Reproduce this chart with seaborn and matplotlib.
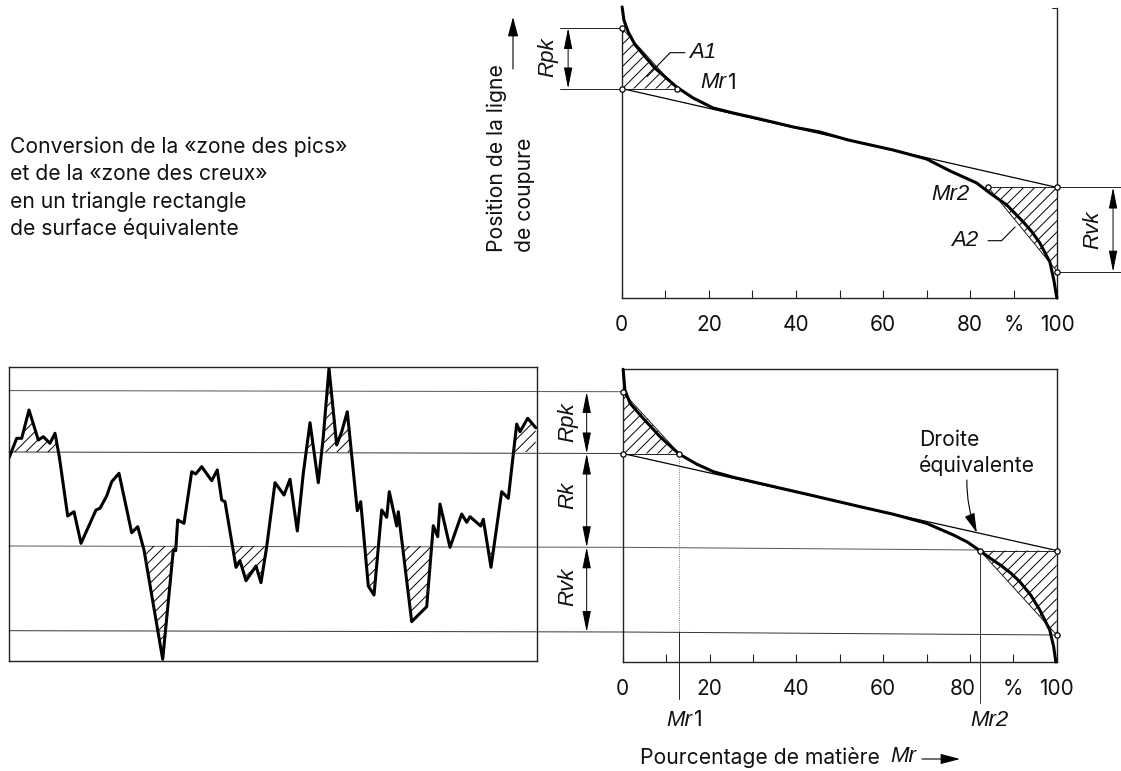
import numpy as np
import seaborn as sns
import matplotlib.pyplot as plt
from matplotlib.transforms import ScaledTranslation

W, H = 1121, 771

# roughness profile (position along the trace, height)
profile_x = [0, 7.7, 12.7, 20, 29.3, 34.3, 41, 46, 50.3, 58.7, 65, 72, 87, 91, 97.7, 102.7, 110,
             122.7, 128.7, 135, 153.7, 164.3, 166.7, 168.7, 175, 182.7, 186.7, 192.7, 202.7, 208.3,
             212.7, 216, 227, 231, 237, 247, 252, 257.7, 266, 275, 281, 288.3, 294.3, 301, 309.3,
             314.3, 320, 327.7, 332.7, 338.3, 348.3, 351.7, 359.3, 365, 372.7, 377.7, 380.3, 387.7,
             389.3, 402.7, 409.3, 417.7, 424.3, 428.7, 431, 441, 452.7, 457.7, 461, 471.7, 474.3,
             482, 492.7, 499.3, 507.7, 511, 518.7, 526.7]
profile_z = [202, 221.7, 221.7, 250, 220, 223.3, 216.7, 226.7, 203.3, 144, 148.3, 116.7, 150, 151.7,
             164, 178.3, 186.7, 127.3, 133.3, 110, 0.7, 110, 109.3, 140, 136.7, 188.3, 186, 193.3,
             179.3, 190, 160, 158.3, 92.7, 99.3, 79.3, 94, 77.3, 113.3, 177.3, 165, 180.7, 129,
             186.7, 237.3, 177.3, 223.3, 291.7, 215, 228.3, 248.3, 149.3, 158.3, 74, 65, 150, 142.7,
             168.3, 134, 148.3, 38.3, 45, 53.3, 134.3, 123.3, 156, 112.7, 146, 137.7, 143.3, 134,
             140.7, 92.7, 168.3, 161.7, 236, 228.3, 241.7, 232.3]
profile_peak_level = 208
profile_valley_level = 114

# bearing curves
top_mr = [0.1, 0.5, 1.5, 3.1, 7.6, 12.6, 16.4, 21, 25.6, 31.7, 39.4, 45.5, 52, 62.3, 70, 75.4, 81.5,
          84.2, 88.4, 92.2, 94.2, 96, 98.3, 99.2, 99.9]
top_h = [291, 278, 266, 253, 230, 211, 200, 190, 185, 179, 171, 166, 158, 148, 139, 127, 115, 106,
         93, 76, 66, 55, 36, 18, 0]
low_mr = [0.1, 0.5, 1.7, 4.7, 8.6, 13, 17, 20.9, 25.5, 33.2, 43.2, 54.7, 62.4, 70, 76.2, 79.4, 82.3,
          84.6, 87, 89.4, 91.5, 94, 96.1, 98.4, 99.3, 99.8]
low_h = [292.7, 272, 258.7, 243.7, 225.3, 208, 198, 190.3, 184.7, 177, 167, 155.3, 147.7, 138.7, 127,
         120, 111.3, 104, 97, 89, 80.3, 67, 52, 32, 15.3, 0]

# characteristic values: (Rpk top, Rk top, Rk bottom, Rvk bottom), Mr1, Mr2
top_levels = [270, 209.5, 110.5, 26.3]
top_mr1, top_mr2 = 12.6, 84.2
low_levels = [270, 208.5, 111.5, 27]
low_mr1, low_mr2 = 13, 82.3

major_ticks = [0, 10, 20, 30, 40, 50, 60, 70, 80, 90, 100]
tick_labels = ['0', '', '20', '', '40', '', '60', '', '80', '%', '100']

sns.set_theme(style="white")
plt.rcParams['font.family'] = ['Inter', 'Liberation Sans', 'DejaVu Sans']
plt.rcParams['hatch.linewidth'] = 0.7
plt.rcParams['text.color'] = '#111111'

fig = plt.figure(figsize=(W / 100, H / 100), dpi=100)


def make_axes(left, right, top, bottom):
    return fig.add_axes([left / W, 1 - bottom / H, (right - left) / W, (bottom - top) / H])


def label(px, py, s, **kw):
    kw.setdefault('fontsize', 15.2)
    kw.setdefault('va', 'center')
    kw.setdefault('ha', 'center')
    fig.text(px / W, 1 - py / H, s, **kw)


def ital(px, py, s, **kw):
    kw.setdefault('fontsize', 16)
    label(px, py, s, style='italic', family=['Liberation Sans'], **kw)


def thin(ax, xs, ys, color='#222222', lw=0.7, ls='-'):
    ax.plot(xs, ys, color=color, lw=lw, ls=ls, clip_on=False, zorder=2)


def double_arrow(ax, x, y0, y1):
    ax.annotate('', xy=(x, y0), xytext=(x, y1), annotation_clip=False,
                arrowprops=dict(arrowstyle='<|-|>,head_length=0.65,head_width=0.13', color='black',
                                lw=0.7, mutation_scale=20, shrinkA=0, shrinkB=0))


def draw_curve_panel(ax, mr, h, levels, mr1, mr2):
    # hatched triangles of equivalent area
    ax.fill_between([0, mr1], [levels[1], levels[1]], [levels[0], levels[1]], facecolor='none',
                    edgecolor='black', hatch='///', linewidth=0, zorder=1)
    ax.fill_between([mr2, 100], [levels[2], levels[2]], [levels[2], levels[3]], facecolor='none',
                    edgecolor='black', hatch='///', linewidth=0, zorder=1)
    thin(ax, [0, mr1], [levels[0], levels[1]])
    thin(ax, [mr2, 100], [levels[2], levels[3]])
    thin(ax, [0, mr1], [levels[1], levels[1]])
    thin(ax, [mr2, 100], [levels[2], levels[2]])
    # equivalent straight line
    thin(ax, [0, 100], [levels[1], levels[2]], color='black', lw=0.9)
    line = sns.lineplot(x=mr, y=h, ax=ax, color='black', lw=2.2, sort=False, estimator=None,
                        errorbar=None, zorder=3)
    for ln in line.lines:
        ln.set_clip_on(False)
    ax.plot([0, 0, mr1, mr2, 100, 100],
            [levels[0], levels[1], levels[1], levels[2], levels[2], levels[3]], ls='none',
            marker='o', ms=3.8, mfc='white', mec='black', mew=0.9, zorder=4, clip_on=False)
    ax.set_xlim(0, 100)
    ax.set_xticks(major_ticks)
    ax.set_xticklabels(tick_labels, fontsize=15, color='#111111')
    ax.set_yticks([])
    ax.set_xlabel('')
    ax.set_ylabel('')
    ax.tick_params(axis='x', direction='in', length=6, width=0.8, color='#222222', bottom=True, pad=12)
    for s in ax.spines.values():
        s.set_color('#222222')
        s.set_linewidth(1.0)
    ax.patch.set_alpha(0)


# ---------- upper curve ----------
ax_top = make_axes(621.7, 1057.3, 8, 298)
ax_top.set_ylim(0, 290)
draw_curve_panel(ax_top, top_mr, top_h, top_levels, top_mr1, top_mr2)
ax_top.spines['top'].set_visible(False)
ax_top.spines['left'].set_bounds(0, top_levels[0])
thin(ax_top, [98.8, 100], [290, 290])
thin(ax_top, [-14.2, 0], [top_levels[0]] * 2)
thin(ax_top, [-14.2, 0], [top_levels[1]] * 2)
thin(ax_top, [100, 114.7], [top_levels[2]] * 2)
thin(ax_top, [100, 114.7], [top_levels[3]] * 2)
double_arrow(ax_top, -12.3, top_levels[1], top_levels[0])
double_arrow(ax_top, 112.8, top_levels[3], top_levels[2])
thin(ax_top, [14.5, 11.1, 5.8], [245.3, 245.3, 221.3], color='black', lw=0.8)
thin(ax_top, [84.1, 87.2, 90.3], [57.3, 57.3, 71], color='black', lw=0.8)

# ---------- lower curve ----------
ax_low = make_axes(622.7, 1056.7, 369.3, 662)
ax_low.set_ylim(0, 292.7)
draw_curve_panel(ax_low, low_mr, low_h, low_levels, low_mr1, low_mr2)
offset = ScaledTranslation(-7 / 100, 0, fig.dpi_scale_trans)
tl = ax_low.get_xticklabels()[8]
tl.set_transform(tl.get_transform() + offset)

# level lines run across both lower panels
thin(ax_low, [-141.4, 0], [271.4, 270.3], color='#555555')
thin(ax_low, [-141.4, 0], [210, 208.5], color='#333333')
thin(ax_low, [-141.4, 0, low_mr2], [116, 114.7, 112], color='#555555')
thin(ax_low, [-141.4, 0, 100], [31.3, 30, 27], color='#333333')
double_arrow(ax_low, -8.3, 208.5, 270)
double_arrow(ax_low, -8.3, 114.7, 208.5)
double_arrow(ax_low, -8.3, 30, 114.7)
thin(ax_low, [low_mr1, low_mr1], [208.5, 30], color='#555555', lw=0.6, ls=':')
thin(ax_low, [low_mr1, low_mr1], [30, -37], color='#222222')
thin(ax_low, [low_mr2, low_mr2], [112, -41], color='#333333')
ax_low.annotate('', xy=(81.6, 129.3), xytext=(79.3, 182), annotation_clip=False,
                arrowprops=dict(arrowstyle='-|>,head_length=0.6,head_width=0.16', color='black',
                                lw=0.8, mutation_scale=20, shrinkA=0, shrinkB=0,
                                connectionstyle='arc3,rad=0.1'))

# ---------- profile ----------
ax_prof = make_axes(9, 536.5, 367, 661)
ax_prof.set_xlim(0, 527.5)
ax_prof.set_ylim(-1, 293)
px_arr = np.array(profile_x)
pz_arr = np.array(profile_z)
ax_prof.fill_between(px_arr, profile_peak_level, pz_arr, where=pz_arr > profile_peak_level,
                     interpolate=True, facecolor='none', edgecolor='black', hatch='///', linewidth=0)
ax_prof.fill_between(px_arr, profile_valley_level, pz_arr, where=pz_arr < profile_valley_level,
                     interpolate=True, facecolor='none', edgecolor='black', hatch='///', linewidth=0)
sns.lineplot(x=profile_x, y=profile_z, ax=ax_prof, color='black', lw=2.2, sort=False, estimator=None,
             errorbar=None)
ax_prof.set_xticks([])
ax_prof.set_yticks([])
ax_prof.set_xlabel('')
ax_prof.set_ylabel('')
ax_prof.patch.set_alpha(0)
for s in ax_prof.spines.values():
    s.set_color('#222222')
    s.set_linewidth(1.0)

# ---------- text ----------
for py, s in zip([152.7, 180, 208, 235], ['Conversion de la «zone des pics»', 'et de la «zone des creux»',
                                          'en un triangle rectangle', 'de surface équivalente']):
    label(10, py, s, ha='left', va='baseline')

label(497, 252, 'Position de la ligne', rotation=90, va='bottom')
label(525, 252, 'de coupure', rotation=90, va='bottom')
ax_top.annotate('', xy=(513 / W, 1 - 17 / H), xytext=(513 / W, 1 - 69 / H), xycoords='figure fraction',
                textcoords='figure fraction',
                arrowprops=dict(arrowstyle='-|>,head_length=0.6,head_width=0.16', color='black', lw=0.8,
                                mutation_scale=20, shrinkA=0, shrinkB=0))
ital(548, 57, 'Rpk', rotation=90)
ital(1093, 230, 'Rvk', rotation=90)
ital(703, 53, 'A1')
ital(700, 83, 'Mr', ha='left')
label(728, 83, '1', ha='left')
ital(950, 194, 'Mr2')
ital(965, 241, 'A2')
ital(568, 422, 'Rpk', rotation=90)
ital(568, 495, 'Rk', rotation=90)
ital(568, 587, 'Rvk', rotation=90)
ital(666, 720, 'Mr', ha='left')
label(694, 720, '1', ha='left')
ital(989, 721, 'Mr2')
label(919, 440, 'Droite', ha='left')
label(919, 466, 'équivalente', ha='left')
label(640, 757, 'Pourcentage de matière', ha='left')
ital(890, 757, 'Mr', ha='left')
ax_low.annotate('', xy=(960 / W, 1 - 759 / H), xytext=(922 / W, 1 - 759 / H), xycoords='figure fraction',
                textcoords='figure fraction',
                arrowprops=dict(arrowstyle='-|>,head_length=0.6,head_width=0.16', color='black', lw=0.8,
                                mutation_scale=20, shrinkA=0, shrinkB=0))

fig.savefig('out.png', dpi=100, facecolor='white')
